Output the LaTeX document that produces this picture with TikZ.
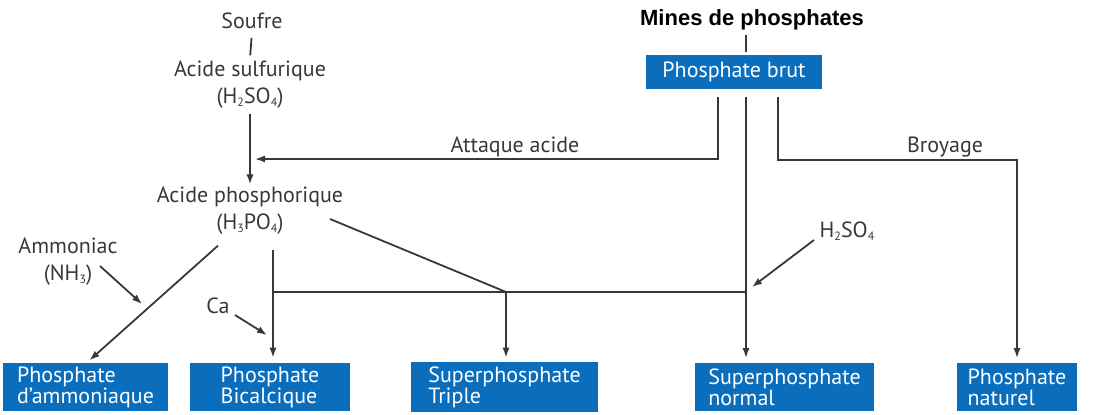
\documentclass[tikz,border=0pt]{standalone}
\usepackage{fontspec}
\setmainfont{PT Sans}
\newfontfamily\titlefont{Liberation Sans}
\usetikzlibrary{arrows.meta}
\definecolor{boxblue}{HTML}{0A6EBD}
\definecolor{linegray}{HTML}{383838}
\newcommand\chemsub[1]{\raisebox{-0.25ex}{\fontsize{6}{6}\selectfont #1}}
\tikzset{
  prodbox/.style={fill=boxblue, text=white, align=left, minimum height=24pt, inner sep=2pt, font=\fontsize{11}{10.5}\selectfont},
  lbl/.style={align=center, inner sep=1pt, font=\fontsize{11}{13.5}\selectfont},
  arr/.style={-{Latex[length=5pt,width=3.6pt]}},
}
\begin{document}
\begin{tikzpicture}[x=0.5pt, y=-0.5pt, line width=0.9pt, linegray]
  \useasboundingbox (0,0) rectangle (1113,414);

  % Sulfur route
  \node[lbl] (soufre) at (252,21) {Soufre};
  \node[lbl] (sulf) at (250,85) {Acide sulfurique\\(H\chemsub{2}SO\chemsub{4})};
  \node[lbl] (phos) at (250,211) {Acide phosphorique\\(H\chemsub{3}PO\chemsub{4})};
  \draw[shorten <=3pt, shorten >=1.5pt] (soufre.south) -- (sulf.north);
  \draw[arr, shorten <=1pt] (sulf.south) -- (phos.north);

  % Mine
  \node[font=\titlefont\bfseries\fontsize{11}{13}\selectfont, text=black, inner sep=1pt] (mines) at (752,20) {Mines de phosphates};
  \node[prodbox, minimum width=88pt, minimum height=17pt, align=center] (brut) at (734,72) {Phosphate brut};

  % Products
  \node[prodbox, minimum width=82.5pt] (b1) at (85.5,387) {Phosphate\\d'ammoniaque};
  \node[prodbox, minimum width=80pt] (b2) at (270,387) {Phosphate\\Bicalcique};
  \node[prodbox, minimum width=93.5pt] (b3) at (504.5,387) {Superphosphate\\Triple};
  \node[prodbox, minimum width=89.5pt] (b4) at (784.5,387) {Superphosphate\\normal};
  \node[prodbox, minimum width=60pt] (b5) at (1017,387) {Phosphate\\naturel};

  % Reagents and labels
  \node[lbl] (amm) at (68,262) {Ammoniac\\(NH\chemsub{3})};
  \node[lbl] (ca) at (218,306) {Ca};
  \node[lbl] (acid) at (847,231) {H\chemsub{2}SO\chemsub{4}};
  \node[lbl] (attaque) at (515,147) {Attaque acide};
  \node[lbl] (broyage) at (945,147) {Broyage};

  \coordinate (atk) at (718,159);
  \coordinate (mid) at (746,96);
  \coordinate (broy) at (778,160);
  \coordinate (jb) at (273,292);
  \coordinate (jt) at (506,292);
  \coordinate (jn) at (746,292);
  \coordinate (nhtip) at (142,304);
  \coordinate (catip) at (267,335);
  \coordinate (actip) at (752,287);

  % Phosphate brut routes
  \draw[shorten <=1pt, shorten >=1pt] (mines.south -| mid) -- (brut.north -| mid);
  \draw[arr, shorten <=3.5pt] (brut.south -| atk) -- (atk) -- ([xshift=2.5pt]sulf.south |- atk);
  \draw[arr, shorten <=3.5pt, shorten >=2pt] (brut.south -| mid) -- (b4.north -| mid);
  \draw[arr, shorten <=3.5pt, shorten >=2pt] (brut.south -| broy) -- (broy) -| (b5.north);

  % Phosphoric acid routes
  \draw[arr, shorten >=1pt] ([xshift=-16pt,yshift=-4pt]phos.south) -- ([xshift=1.25pt]b1.north);
  \draw[arr, shorten <=6pt, shorten >=2pt] (phos.south -| jb) -- (b2.north -| jb);
  \draw ([xshift=-8pt,yshift=-4pt]phos.east) -- (jt);
  \draw[arr, shorten >=2pt] (jt) -- (b3.north -| jt);
  \draw (jb) -- (jn);

  % Additions
  \draw[arr] ([xshift=16pt,yshift=-2pt]amm.center) -- (nhtip);
  \draw[arr] ([xshift=8.5pt,yshift=-4.5pt]ca.center) -- (catip);
  \draw[arr] ([xshift=-16.5pt,yshift=-4.5pt]acid.center) -- (actip);
\end{tikzpicture}
\end{document}
